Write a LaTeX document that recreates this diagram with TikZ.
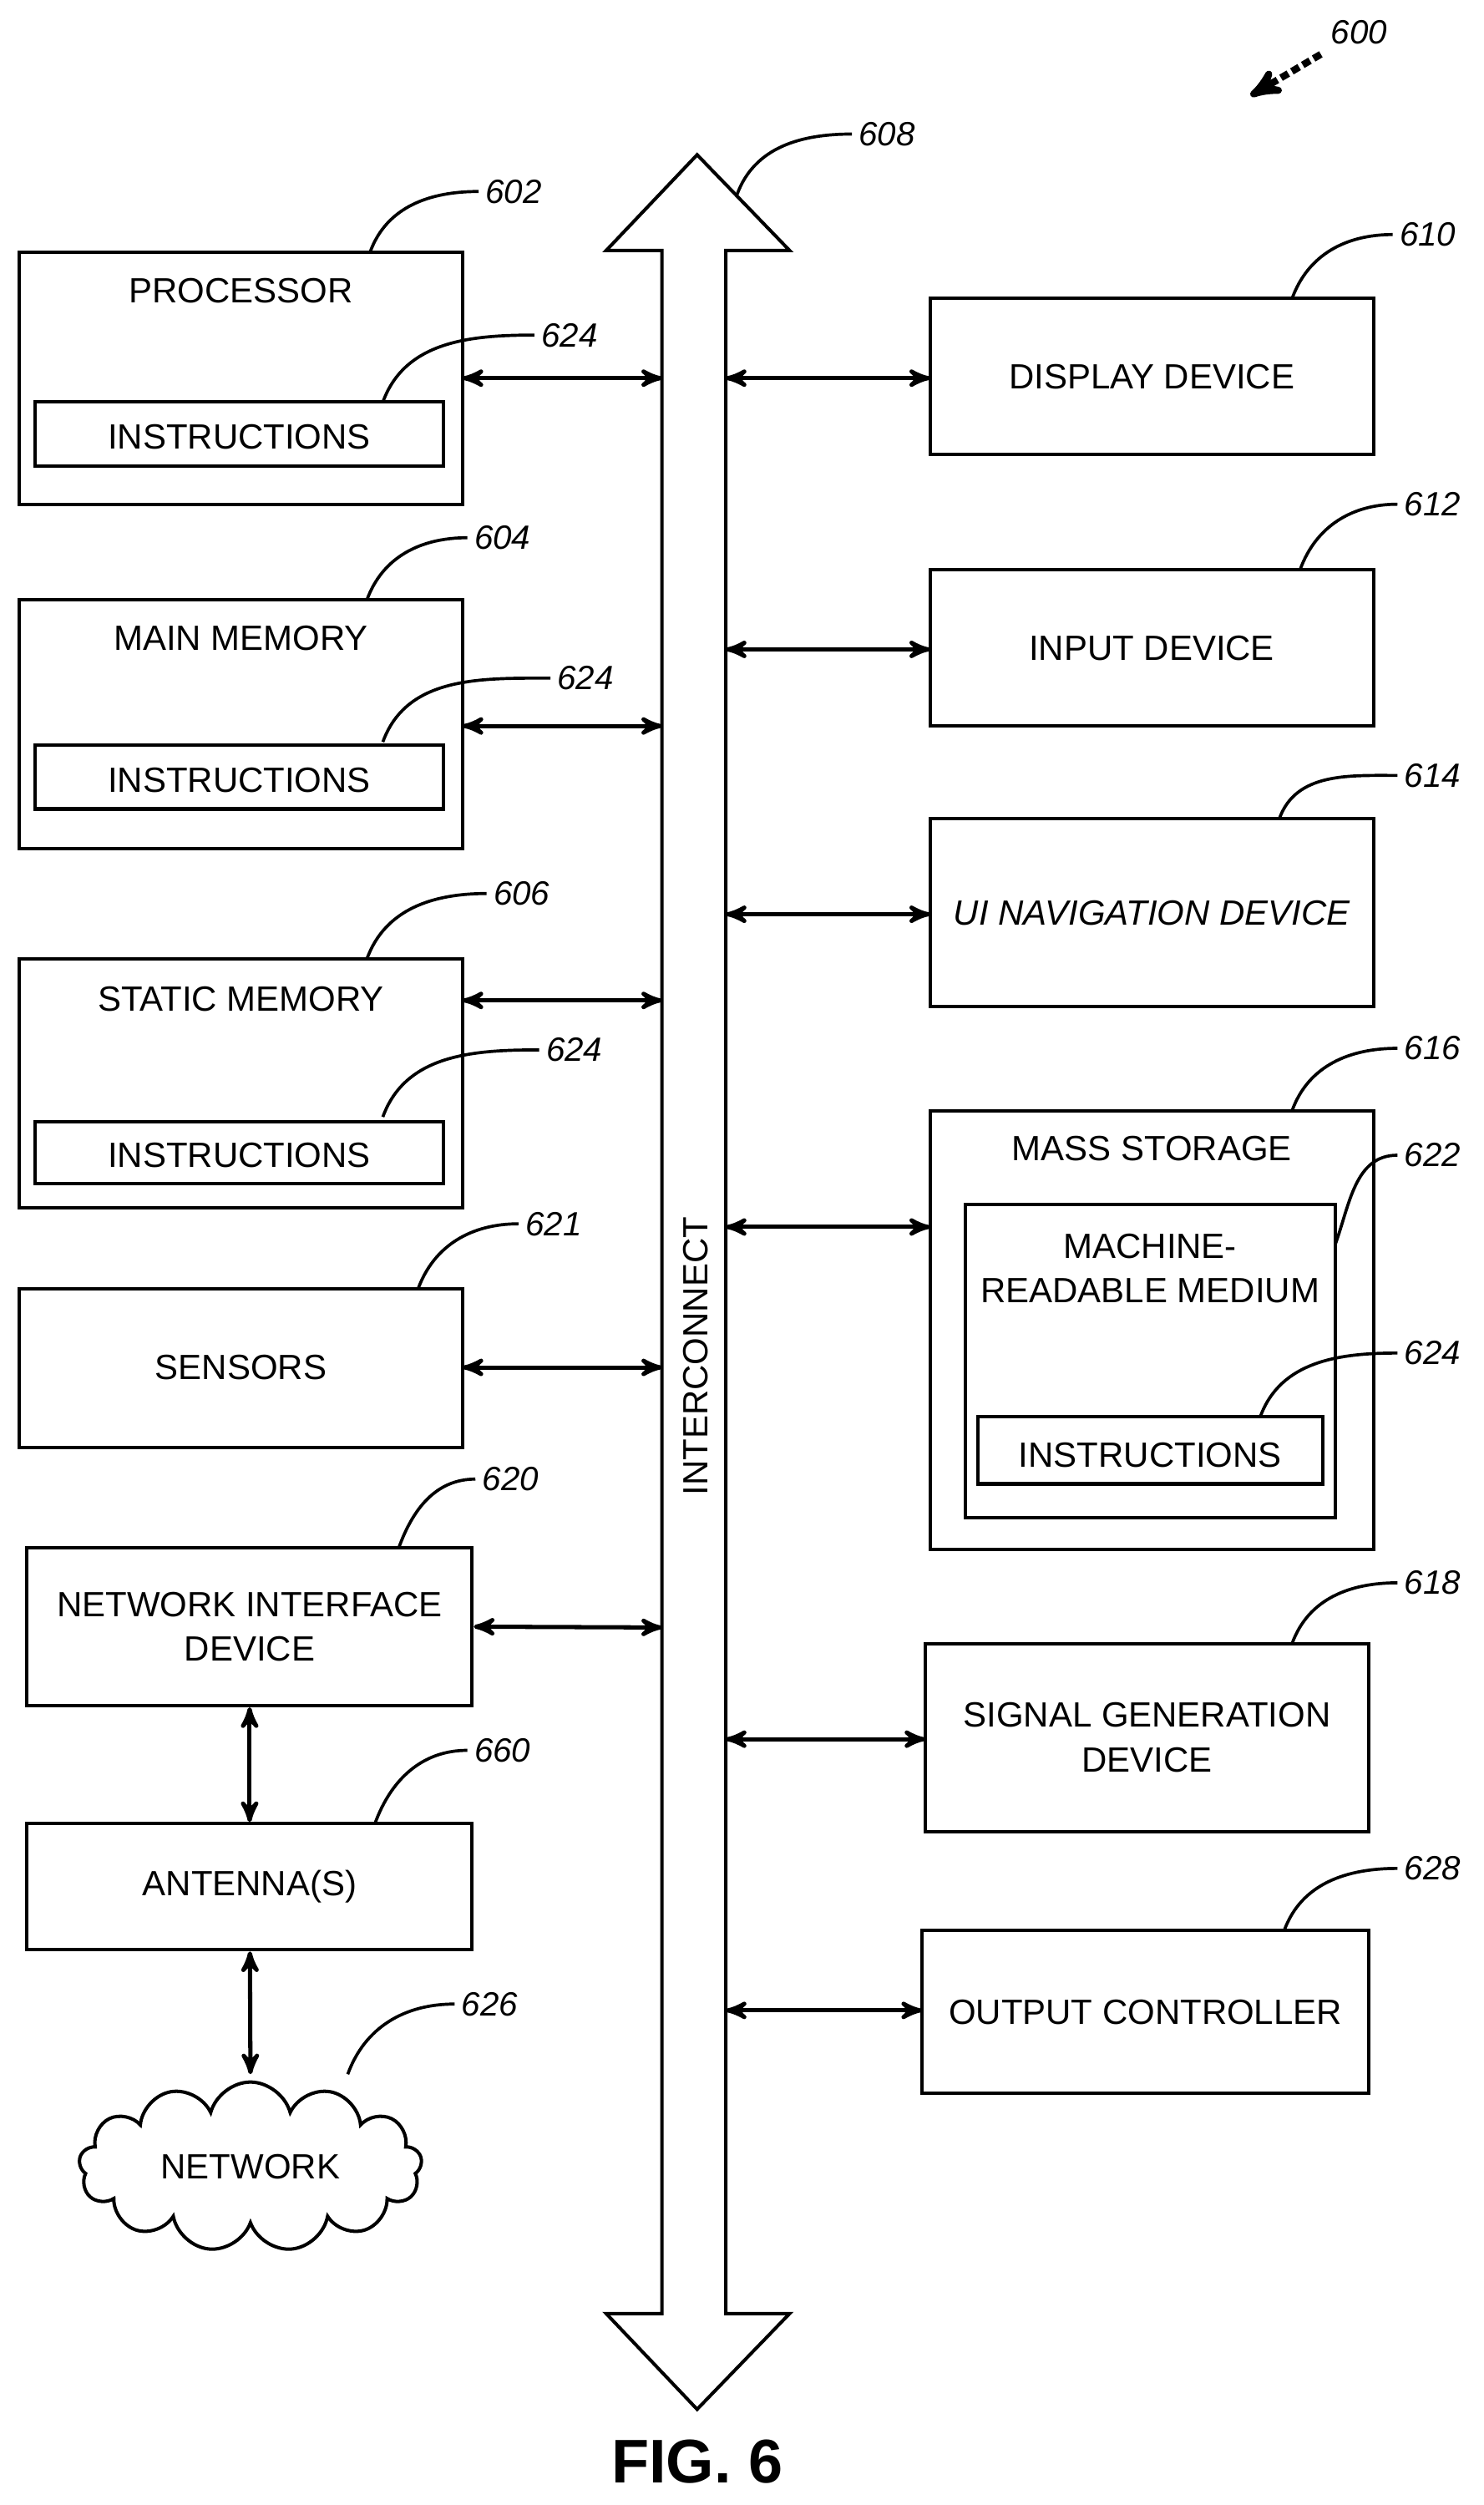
\documentclass[tikz,border=0pt]{standalone}
\usepackage{fontspec}
\setmainfont{Liberation Sans}
\usetikzlibrary{arrows,calc,shapes.symbols}
\newcommand{\leadto}[3]{\draw[lead] (#1) to[out=70,in=180] ($(#2)+(-22,0)$); \node[num] at (#2) {#3};}
\begin{document}
\begin{tikzpicture}[x=0.02cm,y=-0.02cm,>=stealth',
      box/.style={draw,line width=1.2pt,inner sep=0pt},
      txt/.style={font=\fontsize{12.5}{16}\selectfont,align=center},
      num/.style={font=\fontsize{12}{15}\itshape},
      lead/.style={line width=1.1pt},
      link/.style={<->,line width=1.5pt}]
      \useasboundingbox (0,0) rectangle (930,1570);

      % left column
      \draw[box] (12,158) rectangle (290,316);
      \node[txt] (proc) at (151,182) {PROCESSOR};
      \draw[box] (22,252) rectangle (278,292);
      \node[txt] (pins) at (150,274) {INSTRUCTIONS};
      \draw[box] (12,376) rectangle (290,532);
      \node[txt] (mmem) at (151,400) {MAIN MEMORY};
      \draw[box] (22,467) rectangle (278,507);
      \node[txt] (mins) at (150,489) {INSTRUCTIONS};
      \draw[box] (12,601) rectangle (290,757);
      \node[txt] (smem) at (151,626) {STATIC MEMORY};
      \draw[box] (22,703) rectangle (278,742);
      \node[txt] (sins) at (150,724) {INSTRUCTIONS};
      \draw[box] (12,808) rectangle (290,907);
      \node[txt] (sens) at (151,857) {SENSORS};
      \node[box,txt,minimum width=279*0.02cm,minimum height=99*0.02cm] (nid) at (156.5,1019.5) {NETWORK INTERFACE\\DEVICE};
      \node[box,txt,minimum width=279*0.02cm,minimum height=79*0.02cm] (ant) at (156.5,1182.5) {ANTENNA(S)};
      \node[cloud,draw,line width=1.2pt,txt,cloud puffs=13,aspect=2,inner sep=0pt,minimum width=215*0.02cm,minimum height=105*0.02cm] (net) at (157,1358) {NETWORK};
      \coordinate (nettop) at (157,1300);

      % interconnect
      \draw[line width=1.2pt] (415,157) -- (380,157) -- (437,97) -- (495,157) -- (455,157)
        -- (455,1450) -- (495,1450) -- (437,1510) -- (380,1450) -- (415,1450) -- cycle;
      \node[txt,rotate=90] (bus) at (436,850) {INTERCONNECT};

      % right column
      \node[box,txt,minimum width=278*0.02cm,minimum height=98*0.02cm] (disp) at (722,236) {DISPLAY DEVICE};
      \node[box,txt,minimum width=278*0.02cm,minimum height=98*0.02cm] (inp) at (722,406) {INPUT DEVICE};
      \node[box,txt,minimum width=278*0.02cm,minimum height=118*0.02cm] (ui) at (722,572) {\itshape UI NAVIGATION DEVICE};
      \draw[box] (583,696) rectangle (861,971);
      \node[txt] (mass) at (722,720) {MASS STORAGE};
      \draw[box] (605,755) rectangle (837,951);
      \node[txt] (mrm) at (721,795) {MACHINE-\\READABLE MEDIUM};
      \draw[box] (613,888) rectangle (829,930);
      \node[txt] (rins) at (721,912) {INSTRUCTIONS};
      \node[box,txt,minimum width=278*0.02cm,minimum height=118*0.02cm] (sig) at (719,1089) {SIGNAL GENERATION\\DEVICE};
      \node[box,txt,minimum width=280*0.02cm,minimum height=102*0.02cm] (out) at (718,1261) {OUTPUT CONTROLLER};

      % connectors
      \foreach \y in {237,455,627,857} \draw[link] (290,\y) -- (415,\y);
      \draw[link] (nid.east) -- (415,1020);
      \foreach \y/\x in {237/583,407/583,573/583,769/583,1090/580,1260/578} \draw[link] (455,\y) -- (\x,\y);
      \draw[link] (nid) -- (ant);
      \draw[link] (ant) -- (nettop);

      % reference numerals
      \leadto{232,158}{322,120}{602}
      \leadto{240,252}{357,210}{624}
      \leadto{230,376}{315,337}{604}
      \leadto{240,465}{367,425}{624}
      \leadto{230,601}{327,560}{606}
      \leadto{240,700}{360,658}{624}
      \leadto{262,808}{347,767}{621}
      \leadto{250,970}{320,927}{620}
      \leadto{235,1143}{315,1097}{660}
      \leadto{218,1300}{307,1256}{626}
      \leadto{462,122}{556,84}{608}
      \leadto{810,187}{895,147}{610}
      \leadto{815,357}{898,316}{612}
      \leadto{802,513}{898,486}{614}
      \leadto{810,696}{898,657}{616}
      \leadto{837,780}{898,724}{622}
      \leadto{790,888}{898,848}{624}
      \leadto{810,1030}{898,992}{618}
      \leadto{805,1210}{898,1171}{628}
      \node[num] (fig600) at (852,20) {600};
      \draw[-{stealth'},line width=2.5pt,dash pattern=on 3pt off 1.5pt] (828,34) -- (784,60);
      \node[font=\fontsize{22}{26}\bfseries] (fig) at (437,1543) {FIG. 6};
\end{tikzpicture}
\end{document}
